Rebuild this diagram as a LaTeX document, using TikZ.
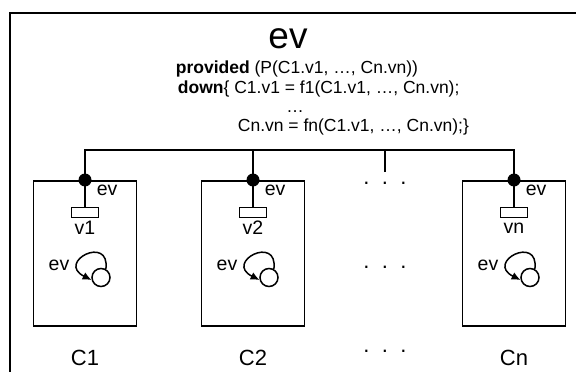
\documentclass[tikz,border=0pt]{standalone}
\usepackage{fontspec}
\setmainfont{Liberation Sans}
\usetikzlibrary{arrows.meta}
\begin{document}
\begin{tikzpicture}[x=1pt,y=-1pt, line width=1.8pt,
  comp/.style={draw, line width=1.8pt, minimum width=103pt, minimum height=145pt, inner sep=0pt},
  port/.style={circle, fill=black, minimum size=13pt, inner sep=0pt},
  varbox/.style={draw, line width=1.3pt, minimum width=27pt, minimum height=10pt, inner sep=0pt},
  lbl/.style={font=\fontsize{19.5}{22}\selectfont, inner sep=0pt},
  eq/.style={font=\fontsize{17.5}{20}\selectfont, inner sep=0pt, anchor=base west},
  st/.style={circle, draw, line width=1.5pt, minimum size=18pt, inner sep=0pt},
  loop/.style={-{Latex[length=9pt,width=8pt]}, line width=1.5pt},
]
\useasboundingbox (0,0) rectangle (576,372);
\draw[line width=2.6pt] (10,372) -- (10,13) -- (576,13);
\node[font=\fontsize{37}{40}\selectfont, anchor=base, inner sep=0pt] (title) at (288,48) {ev};
\node[eq] (l1) at (175,73) {\textbf{provided} (P(C1.v1, …, Cn.vn))};
\node[eq] (l2) at (177,93) {\textbf{down}\{ C1.v1 = f1(C1.v1, …, Cn.vn);};
\node[eq, anchor=base] (l3) at (295,112) {…};
\node[eq] (l4) at (237,131) {Cn.vn = fn(C1.v1, …, Cn.vn);\}};
\foreach \cx/\i/\v/\c in {85/1/v1/C1, 253/2/v2/C2, 514/n/vn/Cn}{
  \node[comp, anchor=north] (box\i) at (\cx,180) {};
  \node[varbox, anchor=north] (var\i) at (\cx,207) {};
  \node[port] (dot\i) at (\cx,180) {};
  \draw (dot\i.center) -- (var\i.north);
  \node[lbl, anchor=west] (evl\i) at (\cx+11,190.5) {ev};
  \node[lbl] (vl\i) at (\cx,228) {\v};
  \node[st] (st\i) at (\cx+16,277.5) {};
  \node[lbl] (sl\i) at (\cx-26,265) {ev};
  \draw[loop] (st\i.60) .. controls +(4.5,-35) and +(-36,-18) .. (st\i.195);
  \node[font=\fontsize{22}{24}\selectfont, inner sep=0pt] (cl\i) at (\cx,358) {\c};
}
\coordinate (busL) at (85,150);
\coordinate (busR) at (514,150);
\coordinate (stub) at (385,172);
\draw (dot1.center) -- (busL) -- (busR) -- (dotn.center);
\draw (dot2.center) -- (dot2 |- busL);
\draw (stub) -- (stub |- busL);
\foreach \y/\k in {184/1, 268/2, 352/3}{
  \node[font=\fontsize{22}{24}\selectfont, inner sep=0pt, anchor=base] (dd\k) at (385,\y) {.\hspace{12.4pt}.\hspace{12.4pt}.};
}
\end{tikzpicture}
\end{document}
